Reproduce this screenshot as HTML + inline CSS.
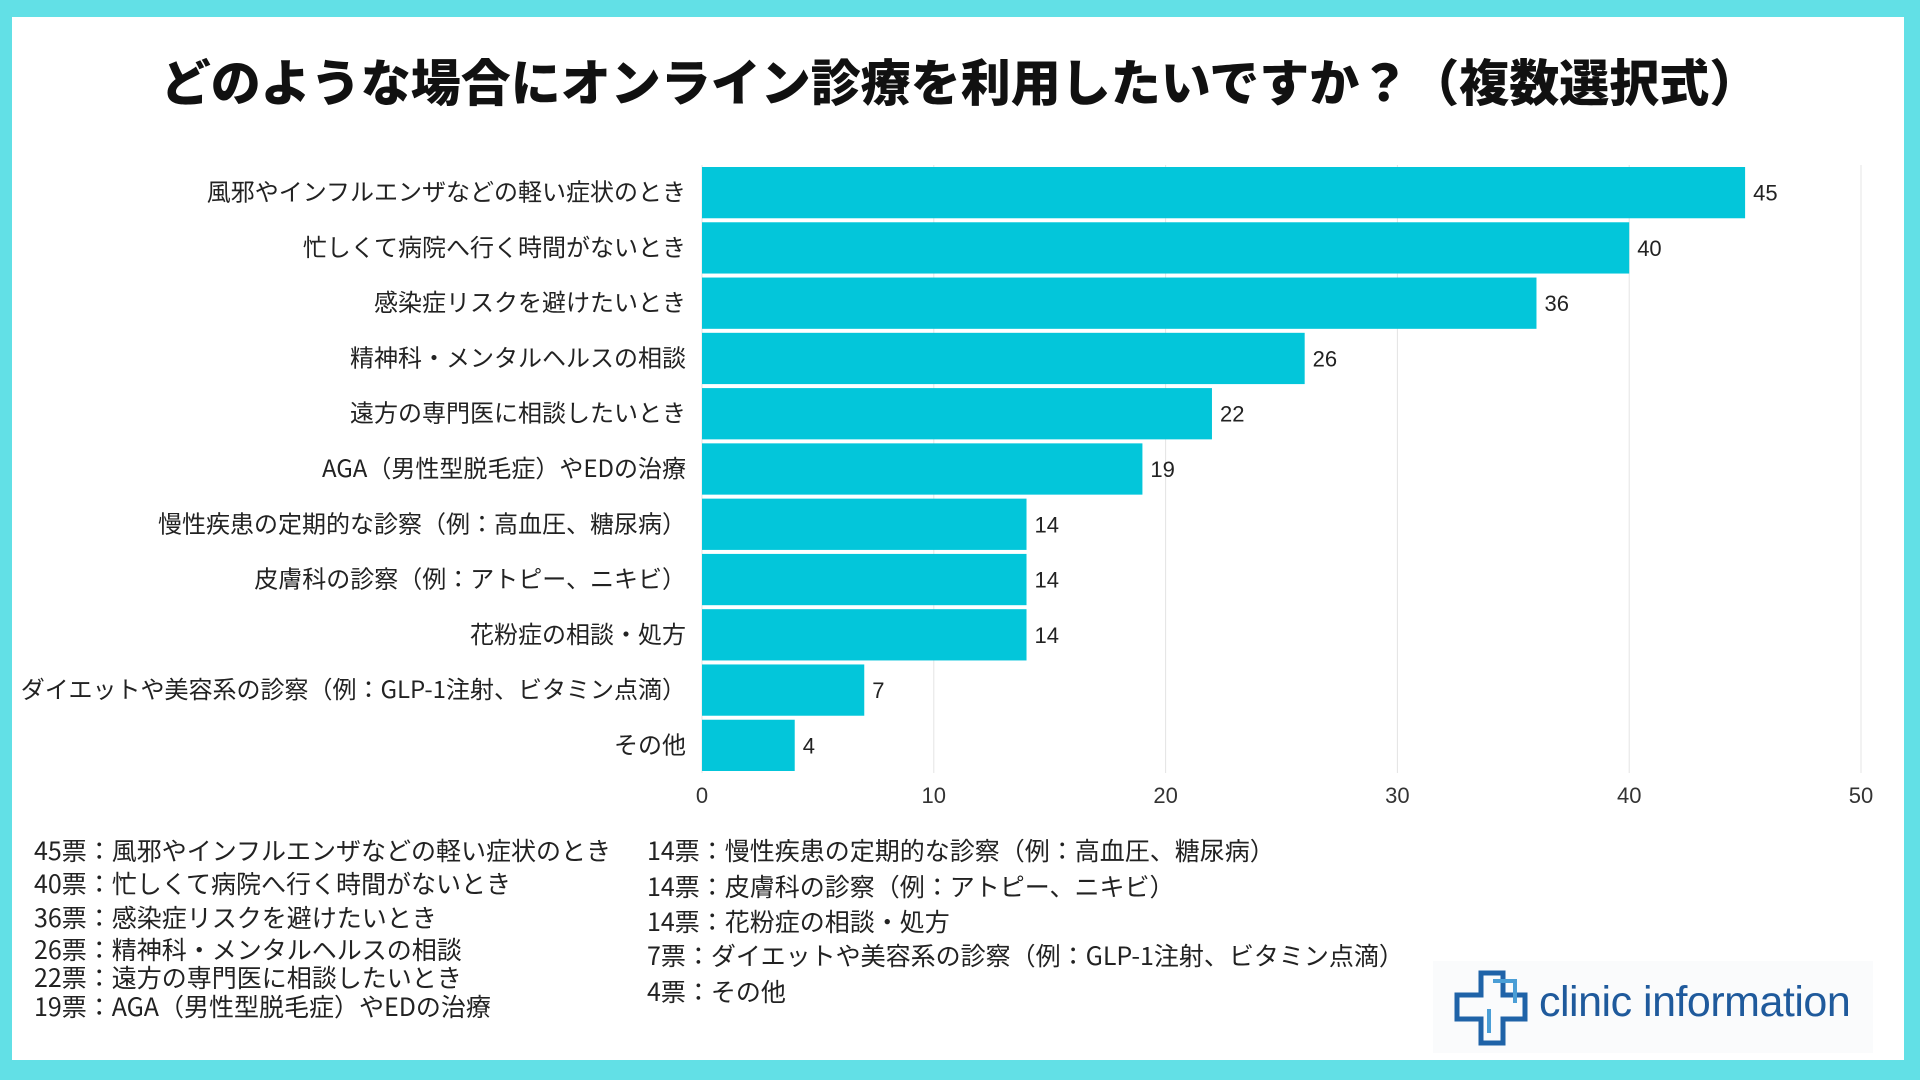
<!DOCTYPE html>
<html><head><meta charset="utf-8"><style>
body{margin:0;width:1920px;height:1080px;background:#62e0e6;font-family:"Liberation Sans","Noto Sans CJK JP",sans-serif;overflow:hidden}
#card{position:absolute;left:12px;top:17px;width:1892px;height:1043px;background:#fff}
#title{position:absolute;left:0;width:1920px;top:44px;text-align:center;font-size:50px;font-weight:900;color:#111;font-family:"Noto Sans CJK JP",sans-serif;white-space:nowrap}
.lst{position:absolute;font-size:25px;color:#222;font-family:"Noto Sans CJK JP",sans-serif;white-space:nowrap;line-height:1}
</style></head><body>
<div id="card"></div>
<div id="title">どのような場合にオンライン診療を利用したいですか？（複数選択式）</div>
<svg id="chart" width="1920" height="1080" style="position:absolute;left:0;top:0"></svg>
<div id="list"></div>
<div style="position:absolute;left:1433px;top:961px;width:440px;height:92px;background:#fafbfc">
<svg width="80" height="80" style="position:absolute;left:20px;top:8px">
<path d="M28 4 H50 V26 H72 V50 H50 V74 H28 V50 H4 V26 H28 Z" fill="none" stroke="#1f63a8" stroke-width="5"/>
<path d="M36 40 V64 M40 12 H62 V34" fill="none" stroke="#4a9ed6" stroke-width="4"/>
</svg>
<div style="position:absolute;left:106px;top:18px;font-size:43px;color:#1f5a9c;font-family:'Liberation Sans',sans-serif;letter-spacing:-0.5px;white-space:nowrap;line-height:1.1">clinic information</div>
</div>
<script>
const categories=["風邪やインフルエンザなどの軽い症状のとき","忙しくて病院へ行く時間がないとき","感染症リスクを避けたいとき","精神科・メンタルヘルスの相談","遠方の専門医に相談したいとき","AGA（男性型脱毛症）やEDの治療","慢性疾患の定期的な診察（例：高血圧、糖尿病）","皮膚科の診察（例：アトピー、ニキビ）","花粉症の相談・処方","ダイエットや美容系の診察（例：GLP-1注射、ビタミン点滴）","その他"];
const values=[45,40,36,26,22,19,14,14,14,7,4];
const ticks=[0,10,20,30,40,50];
const NS="http://www.w3.org/2000/svg";
const svg=document.getElementById('chart');
const X0=702,X1=1861,XMAX=50,Y0=165,Y1=773;
const x=v=>X0+(X1-X0)*v/XMAX;
const pitch=(Y1-Y0)/categories.length, bh=pitch-4;
function mk(t,a){const e=document.createElementNS(NS,t);for(const k in a)e.setAttribute(k,a[k]);svg.appendChild(e);return e;}
ticks.forEach(t=>{
 const g=mk('line',{x1:x(t),x2:x(t),y1:Y0,y2:Y1,stroke:'#e4e4e4','stroke-width':1});
 
 
 const l=mk('text',{x:x(t),y:803,'text-anchor':'middle','font-size':22,fill:'#333'});
 l.textContent=t;
 
 
});
categories.forEach((c,i)=>{
 const y=Y0+i*pitch+2;
 const r=mk('rect',{x:X0,y:y,width:x(values[i])-X0,height:bh,fill:'#03c6da'});
 
 
 const l=mk('text',{x:686,y:y+bh/2+8,'text-anchor':'end','font-size':24,fill:'#222','font-family':'Noto Sans CJK JP, sans-serif'});
 l.textContent=c;
 
 
 const v=mk('text',{x:x(values[i])+8,y:y+bh/2+8,'font-size':22,fill:'#222'});
 v.textContent=values[i];
 
 
});
const list=document.getElementById('list');
const leftY=[838,871,905,937,965,994], rightY=[838,874,909,943,979];
categories.forEach((c,i)=>{
 const d=document.createElement('div');
 d.className='lst';
 d.textContent=values[i]+'票：'+c;
 if(i<6){d.style.left='34px';d.style.top=leftY[i]+'px';}
 else{d.style.left='647px';d.style.top=rightY[i-6]+'px';}
 
 
 list.appendChild(d);
});
</script>
</body></html>
